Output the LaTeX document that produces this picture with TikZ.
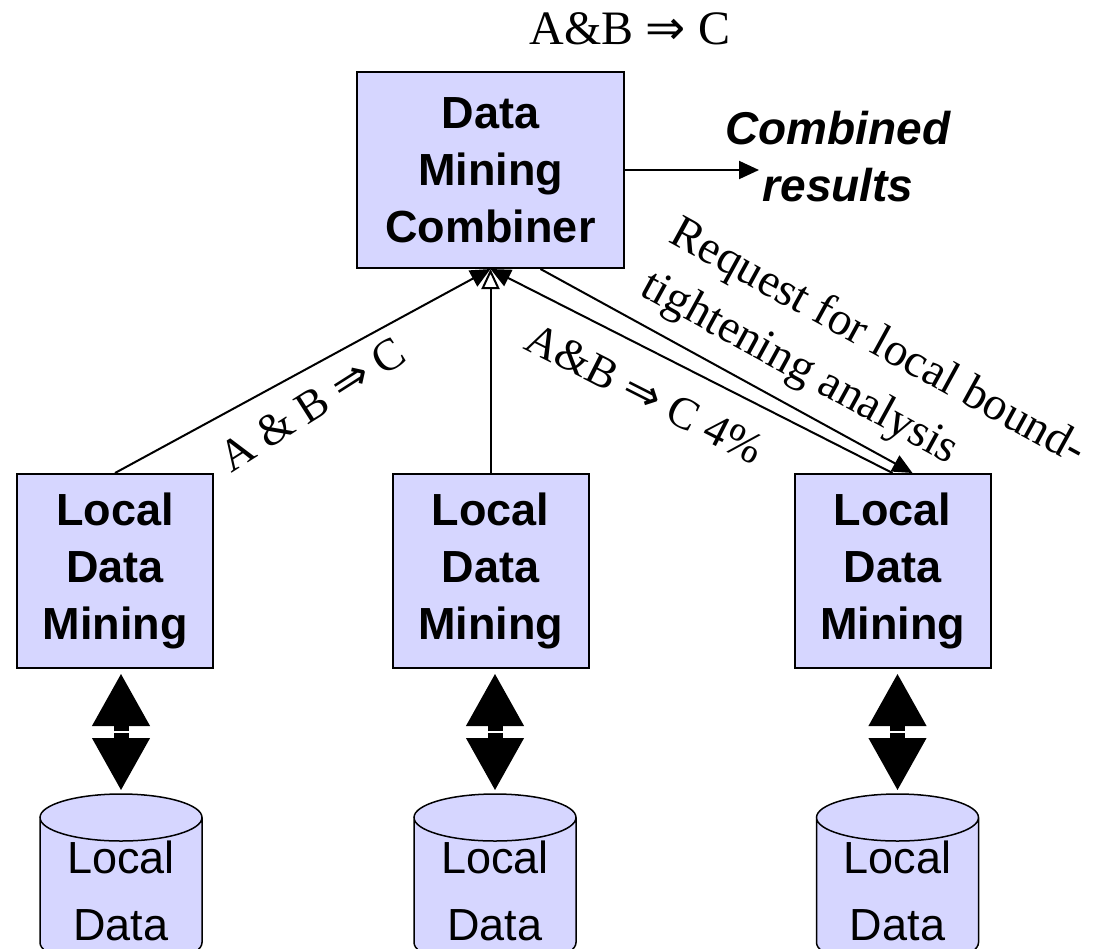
\documentclass[tikz,border=0pt]{standalone}
\usepackage{fontspec}
\setmainfont{Liberation Serif}
\setsansfont{Liberation Sans}
\newfontfamily\dejavu{DejaVu Sans}
\newcommand{\impl}{{\dejavu ⇒}}
\usetikzlibrary{arrows.meta, positioning}
\definecolor{minerblue}{RGB}{214,214,255}
\tikzset{
    >={Triangle[length=20pt,width=18pt]}, % solid heads on the thin arrows
    link/.style={->, line width=2pt}, % thin connectors between the boxes
    pipe/.style={line width=15pt, -{Triangle[length=53pt,width=54pt]}}, % fat arrows to the data stores
    miner/.style={draw, line width=2pt, fill=minerblue, minimum width=196pt, minimum height=194pt,
        inner sep=0pt, align=center, font=\sffamily\bfseries\fontsize{45pt}{57pt}\selectfont},
    combiner/.style={miner, minimum width=267pt, minimum height=196pt},
    dbshape/.style={draw, line width=1.5pt, fill=minerblue}, % the disc drums
    dbtext/.style={inner sep=0pt, align=center, font=\sffamily\fontsize{45pt}{67pt}\selectfont},
    ruletext/.style={inner sep=0pt, font=\fontsize{48pt}{57pt}\selectfont}, % serif rule texts
    rulelabel/.style={inner sep=0pt, font=\fontsize{45pt}{57pt}\selectfont},
    resulttext/.style={inner sep=0pt, align=center, font=\sffamily\bfseries\itshape\fontsize{46pt}{57pt}\selectfont},
    rim/.style={x radius=81pt, y radius=23.5pt},
    }

\begin{document}
\begin{tikzpicture}
    \useasboundingbox (0,0) rectangle (1095pt,-948pt);

    \node[combiner] at (490.5pt,-170pt) (comb) {Data\\Mining\\Combiner};
    \node[ruletext] at ([xshift=139.5pt,yshift=141pt]comb) (rule) {A\&B \impl\ C};
    \node[resulttext] at ([xshift=213pt,yshift=13pt]comb.east) (res) {Combined\\results};

    \node[miner] at ([xshift=-375.5pt,yshift=-401pt]comb) (ldm1) {Local\\Data\\Mining};
    \node[miner] at ([yshift=-401pt]comb) (ldm2) {Local\\Data\\Mining};
    \node[miner] at ([xshift=402pt,yshift=-401pt]comb) (ldm3) {Local\\Data\\Mining};

    % tops of the data drums
    \coordinate (c1) at ([xshift=6pt,yshift=-125pt]ldm1.south);
    \coordinate (c2) at ([xshift=4.5pt,yshift=-125pt]ldm2.south);
    \coordinate (c3) at ([xshift=5pt,yshift=-125pt]ldm3.south);

    \draw[dbshape] ([xshift=-81pt,yshift=-23.5pt]c1) -- ++(0,-125pt) arc[rim, start angle=180, end angle=360] -- ++(0,125pt) arc[rim, start angle=0, end angle=180] arc[rim, start angle=180, end angle=360];
    \draw[dbshape] ([xshift=-81pt,yshift=-23.5pt]c2) -- ++(0,-125pt) arc[rim, start angle=180, end angle=360] -- ++(0,125pt) arc[rim, start angle=0, end angle=180] arc[rim, start angle=180, end angle=360];
    \draw[dbshape] ([xshift=-81pt,yshift=-23.5pt]c3) -- ++(0,-125pt) arc[rim, start angle=180, end angle=360] -- ++(0,125pt) arc[rim, start angle=0, end angle=180] arc[rim, start angle=180, end angle=360];

    \node[dbtext] at ([yshift=-97pt]c1) (ld1) {Local\\Data};
    \node[dbtext] at ([yshift=-97pt]c2) (ld2) {Local\\Data};
    \node[dbtext] at ([yshift=-97pt]c3) (ld3) {Local\\Data};

    % combined output
    \coordinate (resend) at ([xshift=134pt]comb.east);
    \draw[link] (comb.east) -- (resend);

    % local results up, request down
    \draw[link] (ldm1.north) -- (comb.south) node[rulelabel, pos=0.48, below=18pt, sloped, rotate=4] (lab1) {A \& B \impl\ C};
    \draw[link, <-] (comb.south) -- (ldm3.north) node[rulelabel, pos=0.43, below=25pt, sloped] (lab2) {A\&B \impl\ C 4\%};
    \draw[link] ([xshift=50pt]comb.south) -- ([xshift=20pt]ldm3.north) node[rulelabel, pos=0.78, above=14pt, sloped, align=left, font=\fontsize{47pt}{60pt}\selectfont] (lab3) {Request for local bound-\\tightening analysis};
    \draw[link, -{Triangle[length=20pt,width=18pt,fill=white]}] (ldm2.north) -- (comb.south);

    % fat two-way arrows
    \coordinate (m1) at ([yshift=62pt]c1);
    \coordinate (m2) at ([yshift=62pt]c2);
    \coordinate (m3) at ([yshift=62pt]c3);
    \draw[pipe, shorten >=4pt] ([yshift=.75pt]m1) -- (m1 |- ldm1.south);
    \draw[pipe, shorten >=3pt] ([yshift=-.75pt]m1) -- (c1);
    \draw[pipe, shorten >=4pt] ([yshift=.75pt]m2) -- (m2 |- ldm2.south);
    \draw[pipe, shorten >=3pt] ([yshift=-.75pt]m2) -- (c2);
    \draw[pipe, shorten >=4pt] ([yshift=.75pt]m3) -- (m3 |- ldm3.south);
    \draw[pipe, shorten >=3pt] ([yshift=-.75pt]m3) -- (c3);

\end{tikzpicture}
\end{document}
